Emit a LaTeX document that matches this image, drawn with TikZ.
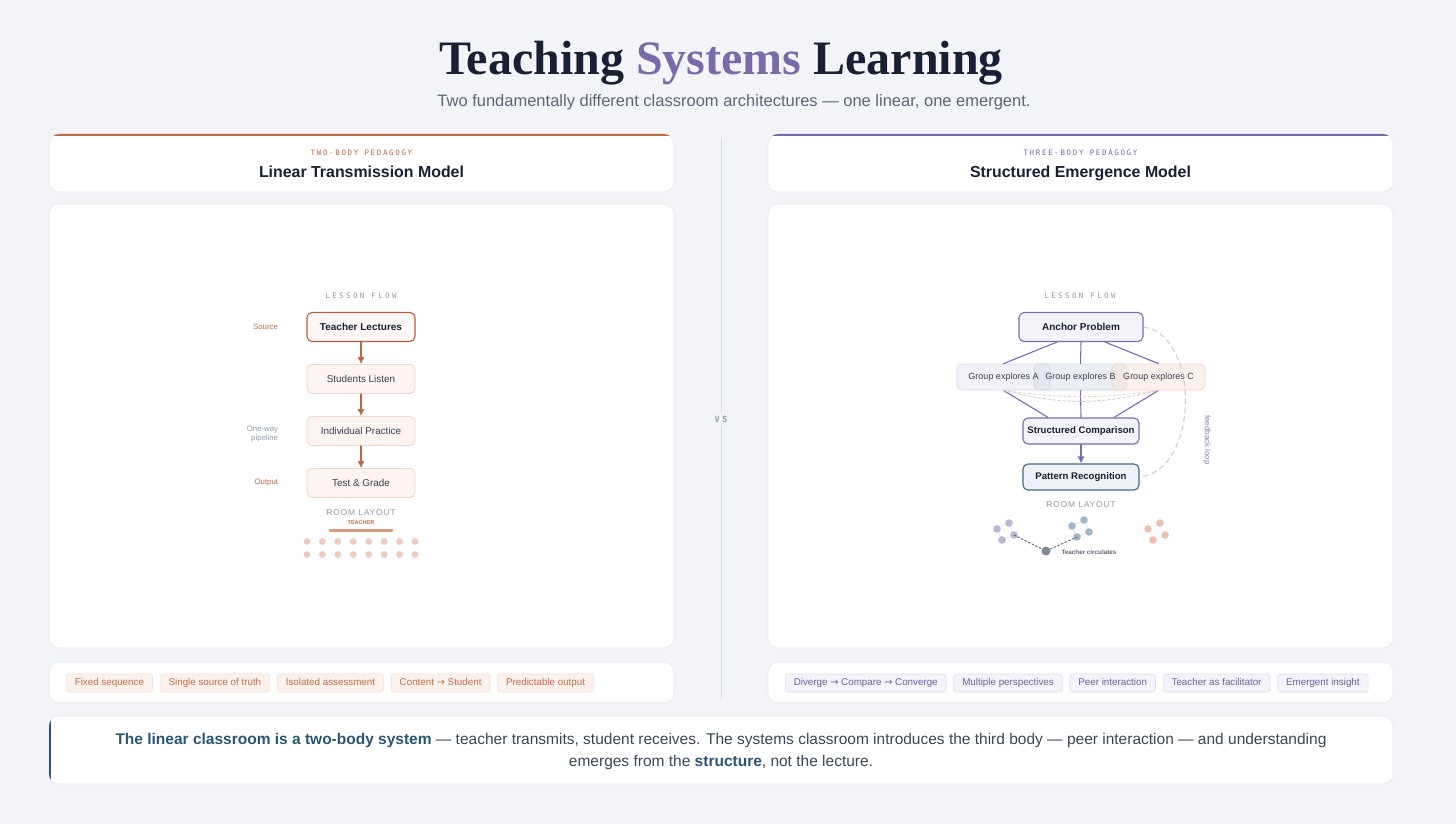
\documentclass[tikz,border=0pt]{standalone}
\usepackage{fontspec}
\setmainfont{Liberation Sans}
\newfontfamily\titlefont{Liberation Serif}
\newfontfamily\symfont{DejaVu Sans}
\newfontfamily\eyebrowfont[LetterSpace=22]{DejaVu Sans Mono}
\newfontfamily\flowfont[LetterSpace=32]{DejaVu Sans Mono}
\newfontfamily\roomfont[LetterSpace=9]{Liberation Sans}
\usetikzlibrary{arrows.meta,calc,positioning}
\definecolor{pedPaper}{HTML}{F3F4F7}
\definecolor{pedEdge}{HTML}{E6E8EC}
\definecolor{pedInk}{HTML}{1A2033}
\definecolor{pedPurple}{HTML}{7A6AAA}
\definecolor{pedSlate}{HTML}{5B6678}
\definecolor{pedRust}{HTML}{BF6744}
\definecolor{pedRustStrong}{HTML}{B85C3B}
\definecolor{pedRustLine}{HTML}{F0D4C8}
\definecolor{pedRustSoft}{HTML}{FBF4F0}
\definecolor{pedRustBar}{HTML}{DB9A80}
\definecolor{pedDot}{HTML}{EECBBE}
\definecolor{pedMuted}{HTML}{8E9BB0}
\definecolor{pedText}{HTML}{3A4150}
\definecolor{pedRule}{HTML}{D8DBE1}
\definecolor{pedPurpleLine}{HTML}{7B6CB0}
\definecolor{pedPurpleSoft}{HTML}{F4F3F9}
\definecolor{pedPurpleDash}{HTML}{CBC7DF}
\definecolor{pedTeal}{HTML}{3E6B86}
\definecolor{pedTealSoft}{HTML}{EEF2F6}
\definecolor{pedGrpA}{HTML}{E2E0EF}
\definecolor{pedGrpALine}{HTML}{DAD6E9}
\definecolor{pedGrpB}{HTML}{D3DDE6}
\definecolor{pedGrpBLine}{HTML}{CDD8E2}
\definecolor{pedGrpC}{HTML}{F8E0D6}
\definecolor{pedGrpCLine}{HTML}{F2D2C4}
\definecolor{pedDotPurple}{HTML}{BDB4D6}
\definecolor{pedDotBlue}{HTML}{A2B7C8}
\definecolor{pedDotRust}{HTML}{EDC1B0}
\definecolor{pedTeacherDot}{HTML}{7D8896}
\definecolor{pedNavy}{HTML}{2B5574}
\definecolor{pedBody}{HTML}{3B4656}
\definecolor{pedTagRust}{HTML}{FCF1EC}
\definecolor{pedTagRustLine}{HTML}{F5DED4}
\definecolor{pedTagRustText}{HTML}{C46A47}
\definecolor{pedTagPurpleLine}{HTML}{E0DDEE}
\definecolor{pedTagPurpleText}{HTML}{6C5FA0}

\begin{document}
\begin{tikzpicture}[x=1pt,y=-1pt,>=Latex,line cap=round,line join=round]
\path[fill=pedPaper] (0,0) rectangle (1456,824);
\tikzset{card/.style={fill=white,draw=pedEdge,line width=0.6pt,rounded corners=10pt},
  eyebrow/.style={font=\eyebrowfont\fontsize{7.5}{9}\selectfont},
  cardtitle/.style={anchor=base,text=pedInk,font=\bfseries\fontsize{15.9}{18}\selectfont},
  flowlbl/.style={text=pedMuted,font=\flowfont\fontsize{7.5}{9}\selectfont},
  roomlbl/.style={text=pedMuted,font=\roomfont\fontsize{8.5}{10}\selectfont},
  sidelbl/.style={font=\fontsize{7.8}{9.5}\selectfont},
  lbox/.style={draw=pedRustLine,fill=pedRustSoft,line width=0.8pt,rounded corners=5pt,minimum width=108pt,minimum height=29pt,text=pedText,font=\fontsize{9.9}{11}\selectfont},
  pbox/.style={draw=pedPurpleLine,fill=pedPurpleSoft,line width=1.1pt,rounded corners=5pt,minimum height=26pt,text=pedInk,font=\bfseries\fontsize{9.6}{11}\selectfont},
  gbox/.style={line width=0.8pt,rounded corners=5pt,minimum width=93pt,minimum height=26pt,fill opacity=0.45},
  gtxt/.style={text=pedText,font=\fontsize{9}{10}\selectfont},
  rustarrow/.style={draw=pedRust,line width=1.1pt,-{Latex[length=7pt,width=7pt]}},
  purpleline/.style={draw=pedPurpleLine,line width=1.1pt},
  tag/.style={line width=0.6pt,rounded corners=3pt,minimum height=18pt,inner xsep=8.5pt,text height=7pt,text depth=2pt,font=\fontsize{9.8}{11}\selectfont},
  tagrust/.style={tag,draw=pedTagRustLine,fill=pedTagRust,text=pedTagRustText},
  tagpurple/.style={tag,draw=pedTagPurpleLine,fill=pedPurpleSoft,text=pedTagPurpleText}}
% title
\node[text=pedInk,font=\titlefont\bfseries\fontsize{48}{54}\selectfont] (title) at (721,63) {Teaching \textcolor{pedPurple}{Systems} Learning};
\node[text=pedSlate,font=\fontsize{16.5}{19}\selectfont] (subtitle) at (734,102) {Two fundamentally different classroom architectures — one linear, one emergent.};
% cards
\path[card] (49,134) rectangle (674,192);
\path[card] (768,134) rectangle (1393,192);
\begin{scope}
\clip[rounded corners=10pt] (49,134) rectangle (674,192);
\fill[pedRust] (49,133) rectangle (674,136);
\end{scope}
\begin{scope}
\clip[rounded corners=10pt] (768,134) rectangle (1393,192);
\fill[pedPurple] (768,133) rectangle (1393,136);
\end{scope}
\path[card] (49,204) rectangle (674,648);
\path[card] (768,204) rectangle (1393,648);
\path[card] (49,662) rectangle (674,703);
\path[card] (768,662) rectangle (1393,703);
\node[eyebrow,text=pedRust] (lkick) at (361.5,153) {TWO-BODY PEDAGOGY};
\node[cardtitle] (lhead) at (361.5,177) {Linear Transmission Model};
\node[eyebrow,text=pedPurple] (rkick) at (1080.5,153) {THREE-BODY PEDAGOGY};
\node[cardtitle] (rhead) at (1080.5,177) {Structured Emergence Model};
% divider
\node[text=pedMuted,font=\flowfont\bfseries\fontsize{8.5}{10}\selectfont] (vs) at (721,419) {VS};
\draw[pedRule,line width=0.8pt] (vs.north) -- ++(0,-274);
\draw[pedRule,line width=0.8pt] (vs.south) -- ++(0,274);
% linear model
\node[flowlbl] (lflow) at (361,296) {LESSON FLOW};
\node[lbox,draw=pedRustStrong,line width=1.1pt,fill=white!40!pedRustSoft,text=pedInk,font=\bfseries\fontsize{10}{11}\selectfont] (tl) at (361,327) {Teacher Lectures};
\node[lbox] (sl) at (361,379) {Students Listen};
\node[lbox] (ip) at (361,431) {Individual Practice};
\node[lbox] (tg) at (361,483) {Test \& Grade};
\foreach \a/\b in {tl/sl,sl/ip,ip/tg}
  \draw[rustarrow] (\a) -- (\b);
\node[sidelbl,text=pedRust,left=25pt of tl] (srclbl) {Source};
\node[sidelbl,text=pedMuted,align=right,left=25pt of ip,yshift=-3pt] (pipelbl) {One-way\\pipeline};
\node[sidelbl,text=pedRust,left=25pt of tg] (outlbl) {Output};
\node[roomlbl] (lroom) at (361,513) {ROOM LAYOUT};
\node[text=pedRust,font=\bfseries\fontsize{5.5}{6}\selectfont] (tchlbl) at (361,523) {TEACHER};
\draw[pedRustBar,line width=3pt] (330,530) -- (392,530);
\foreach \r in {541.5,554.5}
  \foreach \c in {0,...,7}
    \fill[pedDot] (307+15.43*\c,\r) circle (3.4);
% emergence model
\node[flowlbl] (rflow) at (1080,296) {LESSON FLOW};
\node[pbox,minimum width=124pt,minimum height=29pt,font=\bfseries\fontsize{10}{11}\selectfont] (ap) at (1081,327) {Anchor Problem};
\node[gbox,draw=pedGrpALine,fill=pedGrpA] (ga) at (1003.5,377) {};
\node[gbox,draw=pedGrpBLine,fill=pedGrpB] (gb) at (1080.5,377) {};
\node[gbox,draw=pedGrpCLine,fill=pedGrpC] (gc) at (1158.5,377) {};
\node[gtxt] (gatxt) at (ga) {Group explores A};
\node[gtxt] (gbtxt) at (gb) {Group explores B};
\node[gtxt] (gctxt) at (gc) {Group explores C};
\node[pbox,minimum width=116pt] (sc) at (1081,431) {Structured Comparison};
\node[pbox,minimum width=116pt,draw=pedTeal,fill=pedTealSoft] (pr) at (1081,477) {Pattern Recognition};
\draw[purpleline] ([xshift=-24pt]ap.south) -- (ga.north);
\draw[purpleline] (ap.south) -- (gb.north);
\draw[purpleline] ([xshift=24pt]ap.south) -- (gc.north);
\draw[purpleline] (ga.south) -- ([xshift=-33pt]sc.north);
\draw[purpleline] (gb.south) -- (sc.north);
\draw[purpleline] (gc.south) -- ([xshift=33pt]sc.north);
\draw[purpleline,-{Latex[length=7pt,width=7pt]}] (sc) -- (pr);
\draw[pedGrpCLine,line width=0.8pt,dash pattern=on 3pt off 2pt] (ga.south) to[bend right=8] (gc.south);
\draw[pedPurpleDash,line width=0.8pt,dash pattern=on 3pt off 2pt] (ga.south) to[bend right=14] (gc.south);
\draw[pedPurpleDash,line width=1pt,dash pattern=on 5pt off 4pt] (ap.east) .. controls (1200,335) and (1200,470) .. (pr.east);
\node[rotate=-90,text=pedPurple!85,font=\fontsize{8}{9}\selectfont] (fblbl) at (1207,440) {feedback loop};
\node[roomlbl] (rroom) at (1081,505) {ROOM LAYOUT};
\foreach \ox/\oy/\col in {997/523/pedDotPurple,1072/520/pedDotBlue,1148/523/pedDotRust}{
  \draw[\col!40,line width=0.5pt] (\ox,\oy+6) -- (\ox+12,\oy) -- (\ox+17,\oy+12) -- (\ox+5,\oy+17) -- cycle;
  \foreach \dx/\dy in {0/6,12/0,17/12,5/17}
    \fill[\col] (\ox+\dx,\oy+\dy) circle (3.8);
}
\coordinate (grpa) at (1014,535);
\coordinate (grpb) at (1077,537);
\node[circle,fill=pedTeacherDot,minimum size=9pt,inner sep=0pt] (tdot) at (1046,551) {};
\draw[pedSlate,line width=0.9pt,dash pattern=on 2pt off 2pt] (grpa) -- (tdot) -- (grpb);
\node[anchor=west,text=pedSlate,font=\bfseries\fontsize{6.3}{7}\selectfont] (tcirc) at (1058,552) {Teacher circulates};
% tags
\node[tagrust,anchor=west] (lt1) at (66,683) {Fixed sequence};
\node[tagrust,right=7pt of lt1] (lt2) {Single source of truth};
\node[tagrust,right=7pt of lt2] (lt3) {Isolated assessment};
\node[tagrust,right=7pt of lt3] (lt4) {Content {\symfont →} Student};
\node[tagrust,right=7pt of lt4] (lt5) {Predictable output};
\node[tagpurple,anchor=west] (rt1) at (785,683) {Diverge {\symfont →} Compare {\symfont →} Converge};
\node[tagpurple,right=7pt of rt1] (rt2) {Multiple perspectives};
\node[tagpurple,right=7pt of rt2] (rt3) {Peer interaction};
\node[tagpurple,right=7pt of rt3] (rt4) {Teacher as facilitator};
\node[tagpurple,right=7pt of rt4] (rt5) {Emergent insight};
% takeaway
\path[card] (49,716) rectangle (1393,784);
\begin{scope}
\clip[rounded corners=10pt] (49,716) rectangle (1393,784);
\fill[pedNavy] (48,716) rectangle (51,784);
\end{scope}
\node[align=center,text=pedBody,font=\fontsize{15.5}{22}\selectfont] (takeaway) at (721,751) {\textcolor{pedNavy}{\bfseries The linear classroom is a two-body system} — teacher transmits, student receives. The systems classroom introduces the third body — peer interaction — and understanding\\emerges from the \textcolor{pedNavy}{\bfseries structure}, not the lecture.};
\end{tikzpicture}
\end{document}
